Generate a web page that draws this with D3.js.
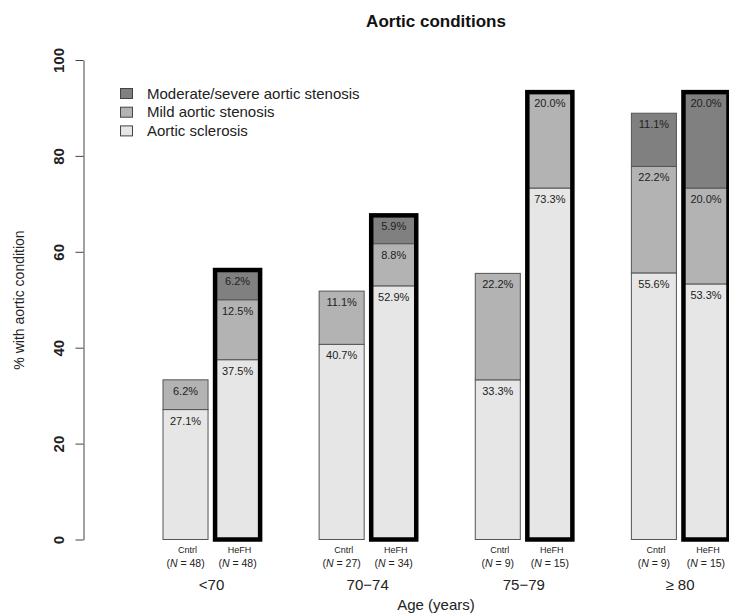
<!DOCTYPE html>
<html>
<head>
<meta charset="utf-8">
<script src="https://cdn.jsdelivr.net/npm/d3@7"></script>
<style>
  body { margin: 0; background: #fff; }
  svg { display: block; font-family: 'Liberation Sans', Arial, sans-serif; }
</style>
</head>
<body>
<svg id="chart" width="729" height="615"></svg>
<script>
'use strict';

// ---------------------------------------------------------
// DATA
// ---------------------------------------------------------
const ageGroups = ['<70', '70\u221274', '75\u221279', '\u2265 80'];
const cohorts = ['Cntrl', 'HeFH'];
const sampleSizes = {
  Cntrl: [48, 27, 9, 9],
  HeFH: [48, 34, 15, 15]
};
const conditions = ['Aortic sclerosis', 'Mild aortic stenosis', 'Moderate/severe aortic stenosis'];
// percentages per age group, one array per condition
const sclerosis = { Cntrl: [27.1, 40.7, 33.3, 55.6], HeFH: [37.5, 52.9, 73.3, 53.3] };
const mildStenosis = { Cntrl: [6.2, 11.1, 22.2, 22.2], HeFH: [12.5, 8.8, 20.0, 20.0] };
const severeStenosis = { Cntrl: [0, 0, 0, 11.1], HeFH: [6.2, 5.9, 0, 20.0] };
const yTicks = [0, 20, 40, 60, 80, 100];

const seriesByCondition = [sclerosis, mildStenosis, severeStenosis];
const fills = ['#e6e6e6', '#b3b3b3', '#808080'];

// ---------------------------------------------------------
// SCALES
// ---------------------------------------------------------
const svg = d3.select('#chart');

const x = d3.scaleBand().domain(ageGroups).range([163, 728.5]).paddingInner(0.378);
const xIn = d3.scaleBand().domain(cohorts).range([0, x.bandwidth()]).paddingInner(0.135);
const y = d3.scaleLinear().domain([0, 100]).range([539.5, 60]);

// ---------------------------------------------------------
// BARS
// ---------------------------------------------------------
const bars = [];
ageGroups.forEach((g, gi) => {
  cohorts.forEach(c => {
    let base = 0;
    const segs = seriesByCondition.map((s, ci) => {
      const v = s[c][gi];
      const seg = { v, y0: base, y1: base + v, ci };
      base += v;
      return seg;
    });
    bars.push({ group: g, cohort: c, n: sampleSizes[c][gi], segs, total: base });
  });
});

const barG = svg.append('g');
bars.forEach(b => {
  const bx = x(b.group) + xIn(b.cohort);
  const bw = xIn.bandwidth();
  const g = barG.append('g');
  b.segs.filter(s => s.v > 0).forEach(s => {
    g.append('rect')
      .attr('x', bx).attr('width', bw)
      .attr('y', y(s.y1)).attr('height', y(s.y0) - y(s.y1))
      .attr('fill', fills[s.ci])
      .attr('stroke', '#555').attr('stroke-width', 1);
    g.append('text')
      .attr('x', bx + bw / 2).attr('y', y(s.y1) + 15)
      .attr('text-anchor', 'middle')
      .attr('font-size', 11).attr('fill', '#222')
      .text(s.v.toFixed(1) + '%');
  });
  if (b.cohort === 'HeFH') {
    g.append('rect')
      .attr('x', bx).attr('width', bw)
      .attr('y', y(b.total)).attr('height', y(0) - y(b.total))
      .attr('fill', 'none').attr('stroke', '#000').attr('stroke-width', 4.5);
  }

  // cohort label under each bar
  const lab = svg.append('g').attr('transform', `translate(${ bx + bw / 2 }, 0)`).attr('text-anchor', 'middle').attr('fill', '#222');
  lab.append('text').attr('x', 2).attr('y', 553).attr('font-size', 9).text(b.cohort);
  const t = lab.append('text').attr('y', 566.5).attr('font-size', 10.5);
  t.append('tspan').text('(');
  t.append('tspan').attr('font-style', 'italic').text('N');
  t.append('tspan').text(' = ' + b.n + ')');
});

// group labels
svg.append('g').selectAll('text').data(ageGroups).join('text')
  .attr('x', d => x(d) + x.bandwidth() / 2)
  .attr('y', 590)
  .attr('text-anchor', 'middle')
  .attr('font-size', 15).attr('fill', '#222')
  .text(d => d);

// ---------------------------------------------------------
// AXES
// ---------------------------------------------------------
const yAxis = svg.append('g').attr('transform', 'translate(83.5, 0)')
  .call(d3.axisLeft(y).tickValues(yTicks).tickSize(8).tickSizeOuter(0));
yAxis.select('.domain').attr('stroke', '#444');
yAxis.selectAll('.tick line').attr('stroke', '#444');
yAxis.selectAll('.tick text')
  .attr('x', 0).attr('y', 0).attr('dy', 0)
  .attr('transform', 'translate(-20, 0) rotate(-90)')
  .attr('text-anchor', 'middle')
  .attr('font-size', 15).attr('font-weight', 'bold').attr('fill', '#222')
  .style('font-family', "'Liberation Sans', Arial, sans-serif");

svg.append('text')
  .attr('transform', 'translate(24, 300) rotate(-90)')
  .attr('text-anchor', 'middle')
  .attr('font-size', 14).attr('fill', '#222')
  .text('% with aortic condition');

svg.append('text')
  .attr('x', 436).attr('y', 610)
  .attr('text-anchor', 'middle')
  .attr('font-size', 15).attr('fill', '#222')
  .text('Age (years)');

svg.append('text')
  .attr('x', 436).attr('y', 27)
  .attr('text-anchor', 'middle')
  .attr('font-size', 17).attr('font-weight', 'bold').attr('fill', '#111')
  .text('Aortic conditions');

// ---------------------------------------------------------
// LEGEND
// ---------------------------------------------------------
const legendItems = conditions.map((c, i) => ({ label: c, fill: fills[i] })).reverse();
const legend = svg.append('g').attr('transform', 'translate(120, 88)');
legendItems.forEach((d, i) => {
  const row = legend.append('g').attr('transform', `translate(0, ${ i * 18.7 })`);
  row.append('rect').attr('x', 0.5).attr('y', 0.5).attr('width', 12).attr('height', 10)
    .attr('fill', d.fill).attr('stroke', '#444');
  row.append('text').attr('x', 27).attr('y', 10.5)
    .attr('font-size', 15).attr('fill', '#222')
    .text(d.label);
});
</script>
</body>
</html>
